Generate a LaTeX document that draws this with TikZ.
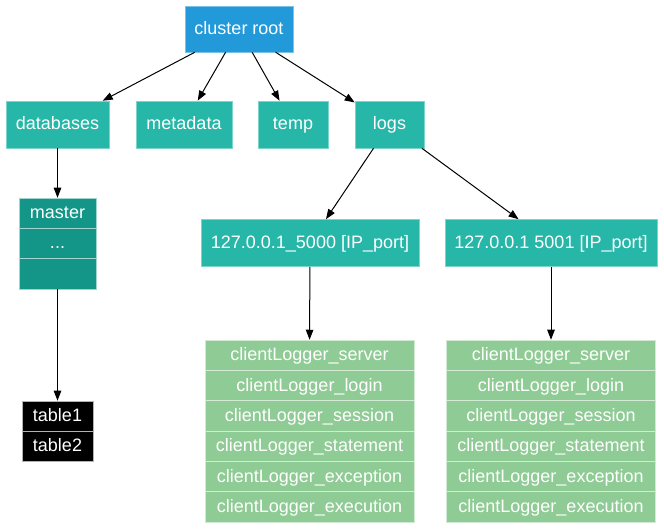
\documentclass[tikz,border=0pt]{standalone}
\usepackage{fontspec}
\setmainfont{Liberation Sans}
\usepackage{tikz}
\usetikzlibrary{arrows.meta,positioning}

\definecolor{rootblue}{HTML}{2299D8}
\definecolor{dirteal}{HTML}{26B7A8}
\definecolor{dbteal}{HTML}{139688}
\definecolor{loggreen}{HTML}{8FCB94}

\tikzset{
  box/.style={rectangle,inner sep=0pt,text=white,line width=0.6pt,
    text height=13pt,text depth=2pt,
    font=\fontsize{18}{21}\selectfont},
  rootbox/.style={box,fill=rootblue,draw=rootblue!60!white,minimum width=108pt,minimum height=46pt},
  dirbox/.style={box,fill=dirteal,draw=dirteal!60!white,minimum height=47pt},
  dbrow/.style={box,fill=dbteal,draw=dbteal!40!white,minimum width=77pt,minimum height=30.3pt},
  tblrow/.style={box,fill=black,draw=black!30!white,minimum width=71pt,minimum height=30pt},
  logrow/.style={box,fill=loggreen,draw=loggreen!40!white,minimum width=209pt,minimum height=30.3pt},
  edge/.style={line width=1pt,->}
}

\begin{document}
\begin{tikzpicture}[x=1pt,y=-1pt,>={Triangle[length=10pt,width=7.5pt]}]
  \useasboundingbox (0,0) rectangle (664,529);
  \node[rootbox] (root) at (239,29)   {cluster root};
  \node[dirbox,minimum width=103pt] (db)   at (57.5,124.5)  {databases};
  \node[dirbox,minimum width=96pt]  (meta) at (184,124.5)   {metadata};
  \node[dirbox,minimum width=70pt]  (temp) at (293,124.5)   {temp};
  \node[dirbox,minimum width=69pt]  (logs) at (389.5,124.5) {logs};
  \node[dirbox,minimum width=218pt] (ipA)  at (310,243)     {127.0.0.1\_5000 [IP\_port]};
  \node[dirbox,minimum width=212pt] (ipB)  at (551,243)     {127.0.0.1 5001 [IP\_port]};
  % database stack
  \node[dbrow] (mst1) at (57.5,213.2) {master};
  \node[dbrow] (mst2) at (57.5,243.5) {...};
  \node[dbrow] (mst3) at (57.5,273.8) {};
  \node[tblrow] (tbl1) at (57.5,416) {table1};
  \node[tblrow] (tbl2) at (57.5,446) {table2};
  % log stacks
  \node[logrow] (logA1) at (309.5,355.2) {clientLogger\_server};
  \node[logrow] (logA2) at (309.5,385.5) {clientLogger\_login};
  \node[logrow] (logA3) at (309.5,415.8) {clientLogger\_session};
  \node[logrow] (logA4) at (309.5,446.2) {clientLogger\_statement};
  \node[logrow] (logA5) at (309.5,476.5) {clientLogger\_exception};
  \node[logrow] (logA6) at (309.5,506.8) {clientLogger\_execution};
  \node[logrow] (logB1) at (551,355.2) {clientLogger\_server};
  \node[logrow] (logB2) at (551,385.5) {clientLogger\_login};
  \node[logrow] (logB3) at (551,415.8) {clientLogger\_session};
  \node[logrow] (logB4) at (551,446.2) {clientLogger\_statement};
  \node[logrow] (logB5) at (551,476.5) {clientLogger\_exception};
  \node[logrow] (logB6) at (551,506.8) {clientLogger\_execution};
  \draw[edge] (root)--(db);
  \draw[edge] (root)--(meta);
  \draw[edge] (root)--(temp);
  \draw[edge] (root)--(logs);
  \draw[edge] (db)--(mst1);
  \draw[edge] (mst3)--(tbl1);
  \draw[edge] (logs)--(ipA);
  \draw[edge] (logs)--(ipB);
  \draw[edge] (ipA)--(logA1);
  \draw[edge] (ipB)--(logB1);
\end{tikzpicture}
\end{document}
